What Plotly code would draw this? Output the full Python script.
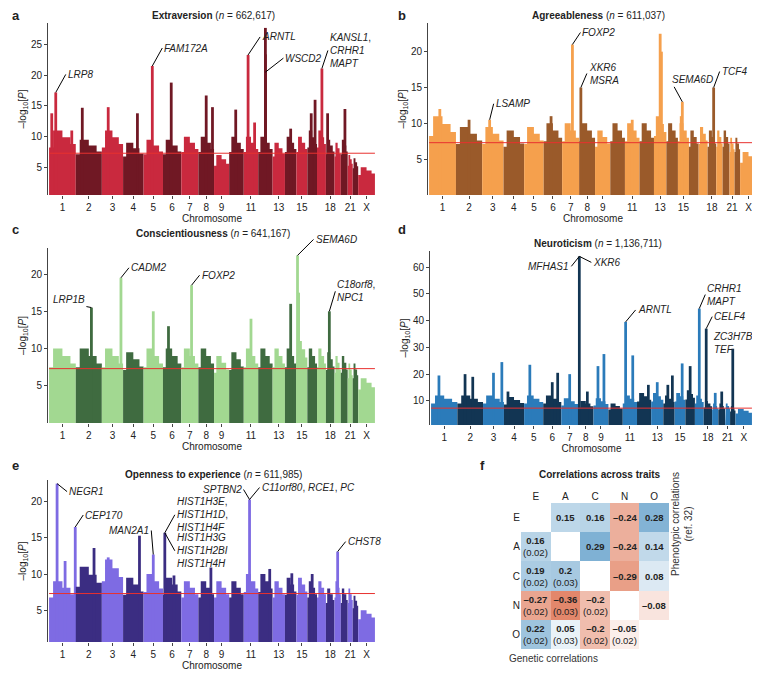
import plotly.graph_objects as go

W, H = 760, 673
FONT = "Liberation Sans"

CHROMS = [str(i) for i in range(1, 23)] + ["X"]
CHROM_LEN = [249, 243, 198, 191, 181, 171, 159, 146, 141, 136, 135, 134, 115,
             107, 102, 90, 83, 80, 59, 64, 47, 51, 156]
TICK_CHROMS = ["1", "2", "3", "4", "5", "6", "7", "8", "9", "11", "13", "15", "18", "21", "X"]

# bulk (typical top of dense points) per chromosome, and notable peaks (chrom, fraction, height)
extra_bulk = [11, 9.5, 11, 9, 9.5, 9.5, 10, 10, 7, 10, 10, 10, 9, 10, 10, 11, 11, 9.5, 9, 9.5, 7, 6.5, 5]
extra_peaks = [("1", 0.25, 17.2), ("1", 0.1, 13.8), ("1", 0.85, 11), ("2", 0.25, 14.7), ("3", 0.3, 14.8),
               ("4", 0.7, 13.8), ("5", 0.45, 21.5), ("6", 0.45, 18.8), ("8", 0.5, 16.7), ("8", 0.9, 14.8),
               ("10", 0.45, 14.4), ("11", 0.3, 23.3), ("11", 0.75, 12.3), ("12", 0.5, 20.5),
               ("12", 0.5, 23.4), ("12", 0.5, 27.7), ("14", 0.5, 11.3), ("16", 0.4, 13.8),
               ("16", 0.8, 16.0), ("17", 0.55, 21.1), ("18", 0.2, 13.8), ("20", 0.6, 14.5)]

agree_bulk = [11, 9.5, 9.5, 9, 9.5, 10, 10, 10, 9, 10, 10, 10, 11, 10, 10, 9, 9.5, 9, 9, 9, 8, 8, 6]
agree_peaks = [("1", 0.4, 12), ("2", 0.5, 10.5), ("3", 0.35, 10.5), ("6", 0.4, 11), ("7", 0.6, 21),
               ("8", 0.1, 15), ("11", 0.5, 10.5), ("13", 0.5, 22.5), ("13", 0.6, 20),
               ("15", 0.3, 11), ("15", 0.4, 13), ("18", 0.7, 15)]

consc_bulk = [10, 10, 10, 9.5, 10, 10, 10, 10, 9, 9.5, 10, 10, 10, 10, 11, 10, 10, 9.5, 9, 9, 8, 8, 6]
consc_peaks = [("2", 0.6, 15.5), ("3", 0.9, 19.5), ("5", 0.5, 15), ("6", 0.3, 13), ("7", 0.6, 18.5),
               ("11", 0.5, 14), ("14", 0.5, 16), ("15", 0.1, 22.5), ("15", 0.2, 17.5), ("18", 0.4, 15)]

neuro_bulk = [12, 12, 12, 11.5, 12, 12, 11, 10, 11, 9, 12, 13, 13, 12, 13, 14, 12, 10, 9, 9, 9, 8, 7]
neuro_peaks = [("1", 0.3, 19.5), ("2", 0.3, 20), ("2", 0.6, 19), ("3", 0.5, 20.5), ("3", 0.9, 24.5),
               ("4", 0.2, 13.5), ("5", 0.3, 23.5), ("6", 0.5, 17), ("6", 0.8, 20.5), ("7", 0.5, 20),
               ("8", 0.08, 64), ("8", 0.6, 13.5), ("9", 0.3, 23), ("9", 0.7, 27.5), ("11", 0.2, 39.5),
               ("11", 0.7, 27), ("12", 0.8, 16), ("13", 0.5, 17), ("14", 0.4, 16), ("14", 0.8, 19.5),
               ("15", 0.7, 24), ("16", 0.5, 23), ("17", 0.5, 44.5), ("18", 0.3, 37), ("19", 0.5, 13),
               ("20", 0.5, 13.5), ("22", 0.5, 29.5)]

open_bulk = [9, 11, 12, 9.5, 10, 9.5, 9, 9, 9, 9, 10, 10, 9, 9.5, 9.5, 9, 9, 8, 9, 8, 8, 7, 5]
open_peaks = [("1", 0.3, 22.5), ("1", 0.6, 11.8), ("1", 0.98, 16.5), ("2", 0.7, 13.6), ("3", 0.3, 12.3),
              ("4", 0.8, 15.3), ("5", 0.5, 12.7), ("6", 0.1, 15.7), ("6", 0.6, 9.8), ("8", 0.8, 10.9),
              ("11", 0.4, 20.3), ("12", 0.8, 10.7), ("14", 0.6, 10.1), ("16", 0.5, 10), ("19", 0.5, 13.1)]

TRAITS = ["E", "A", "C", "N", "O"]
corr = [[None, 0.15, 0.16, -0.24, 0.28],
        [0.16, None, 0.29, -0.24, 0.14],
        [0.19, 0.2, None, -0.29, 0.08],
        [-0.27, -0.36, -0.2, None, -0.08],
        [0.22, 0.05, -0.2, -0.05, None]]
corr_se = [[None] * 5,
           ["(0.02)", None, None, None, None],
           ["(0.02)", "(0.03)", None, None, None],
           ["(0.02)", "(0.03)", "(0.02)", None, None],
           ["(0.02)", "(0.03)", "(0.02)", "(0.02)", None]]

starts = {}
pos = 0
for c, L in zip(CHROMS, CHROM_LEN):
    starts[c] = pos
    pos += L
TOTAL = pos
LEN = dict(zip(CHROMS, CHROM_LEN))


def px(x0, x1):
    return [x0 / W, x1 / W]


def py(y0, y1):
    return [1 - y1 / H, 1 - y0 / H]


fig = go.Figure()


def manhattan(n, bulk, peaks, light, dark, xdom, ydom, yrange, ytickvals):
    xa, ya = f"x{n}", f"y{n}"
    for i, c in enumerate(CHROMS):
        col = light if i % 2 == 0 else dark
        s, L = starts[c], LEN[c]
        b = bulk[i]
        xs = [s, s, s + 0.15 * L, s + 0.15 * L, s + 0.5 * L, s + 0.5 * L, s + 0.8 * L, s + 0.8 * L, s + L, s + L]
        ys = [0, b * 0.75, b * 0.75, b, b, b * 0.9, b * 0.9, b * 0.8, b * 0.8, 0]
        fig.add_trace(go.Scatter(x=xs, y=ys, fill="toself", fillcolor=col, line=dict(width=0), mode="lines",
                                 xaxis=xa, yaxis=ya, showlegend=False, hoverinfo="skip"))
        for (pc, f, h) in peaks:
            if pc != c:
                continue
            x = s + f * L
            fig.add_trace(go.Scatter(x=[x - 13, x - 13, x + 13, x + 13], y=[0, h, h, 0],
                                     fill="toself", fillcolor=col, mode="lines",
                                     line=dict(width=0, color=col),
                                     xaxis=xa, yaxis=ya, showlegend=False, hoverinfo="skip"))
    fig.add_trace(go.Scatter(x=[0, TOTAL], y=[7.3, 7.3], mode="lines", line=dict(color="#e8312f", width=1),
                             xaxis=xa, yaxis=ya, showlegend=False, hoverinfo="skip"))
    tv = [starts[c] + LEN[c] / 2 for c in TICK_CHROMS]
    fig.layout[f"xaxis{n}"] = dict(domain=xdom, range=[-10, TOTAL + 10], anchor=ya, tickvals=tv,
                                   ticktext=TICK_CHROMS, showgrid=False, zeroline=False, ticks="outside",
                                   ticklen=3, tickfont=dict(size=10),
                                   title=dict(text="Chromosome", font=dict(size=10), standoff=0))
    fig.layout[f"yaxis{n}"] = dict(domain=ydom, range=yrange, anchor=xa, tickvals=ytickvals,
                                   showgrid=False, zeroline=False, ticks="outside", ticklen=3,
                                   showline=True, linecolor="#444", tickfont=dict(size=10),
                                   title=dict(text="\u2013log<sub>10</sub>[<i>P</i>]", font=dict(size=10), standoff=2))


def peak_xy(peaks, c, f):
    for (pc, pf, h) in peaks:
        if pc == c and pf == f:
            return starts[c] + f * LEN[c], h


def label(n, peaks, c, f, text, ax, ay, xanchor="left"):
    x, y = peak_xy(peaks, c, f)
    fig.add_annotation(x=x, y=y, xref=f"x{n}", yref=f"y{n}", text=text, showarrow=True,
                       arrowhead=0, arrowwidth=1, arrowcolor="black", ax=ax, ay=ay,
                       font=dict(size=10), xanchor=xanchor, align="left")


manhattan("", extra_bulk, extra_peaks, "#c9293e", "#701824", px(40, 368), py(15, 187), [0.5, 28.5], [5, 10, 15, 20, 25])
manhattan(2, agree_bulk, agree_peaks, "#f5a04d", "#9a5a2a", px(420, 750), py(15, 187), [0, 24], [5, 10, 15, 20])
manhattan(3, consc_bulk, consc_peaks, "#a2d891", "#3f6b40", px(40, 368), py(240, 415), [0, 23.5], [5, 10, 15, 20])
manhattan(4, neuro_bulk, neuro_peaks, "#2b7bba", "#123553", px(422, 745), py(243, 417), [1, 66], [10, 20, 30, 40, 50, 60])
manhattan(5, open_bulk, open_peaks, "#7e6be3", "#3b2d82", px(40, 368), py(472, 634), [0.6, 23], [5, 10, 15, 20])

label("", extra_peaks, "1", 0.25, "<i>LRP8</i>", 10, -18)
label("", extra_peaks, "5", 0.45, "<i>FAM172A</i>", 10, -18)
label("", extra_peaks, "11", 0.3, "<i>ARNTL</i>", 12, -18)
label("", extra_peaks, "12", 0.5, "<i>WSCD2</i>", 18, -14)
label("", extra_peaks, "17", 0.55, "<i>KANSL1</i>,<br><i>CRHR1</i><br><i>MAPT</i>", 6, -18)
label(2, agree_peaks, "3", 0.35, "<i>LSAMP</i>", 4, -16)
label(2, agree_peaks, "7", 0.6, "<i>FOXP2</i>", 8, -12)
label(2, agree_peaks, "8", 0.1, "<i>XKR6</i><br><i>MSRA</i>", 6, -14)
label(2, agree_peaks, "15", 0.4, "<i>SEMA6D</i>", -12, -22)
label(2, agree_peaks, "18", 0.7, "<i>TCF4</i>", 6, -16)
label(3, consc_peaks, "2", 0.6, "<i>LRP1B</i>", -40, -8)
label(3, consc_peaks, "3", 0.9, "<i>CADM2</i>", 8, -10)
label(3, consc_peaks, "7", 0.6, "<i>FOXP2</i>", 8, -10)
label(3, consc_peaks, "15", 0.1, "<i>SEMA6D</i>", 16, -16)
label(3, consc_peaks, "18", 0.4, "<i>C18orf8</i>,<br><i>NPC1</i>", 6, -20)
label(4, neuro_peaks, "8", 0.08, "<i>XKR6</i>", 12, 6)
label(4, neuro_peaks, "8", 0.08, "<i>MFHAS1</i>", -8, 10, "right")
label(4, neuro_peaks, "11", 0.2, "<i>ARNTL</i>", 10, -12)
label(4, neuro_peaks, "17", 0.5, "<i>CRHR1</i><br><i>MAPT</i>", 6, -14)
label(4, neuro_peaks, "18", 0.3, "<i>CELF4</i>", 6, -12)
label(4, neuro_peaks, "22", 0.5, "<i>ZC3H7B</i>,<br><i>TEF</i>", -22, -6)
label(5, open_peaks, "1", 0.3, "<i>NEGR1</i>", 10, 8)
label(5, open_peaks, "1", 0.98, "<i>CEP170</i>", 8, -12)
label(5, open_peaks, "5", 0.5, "<i>MAN2A1</i>", -2, -24, "right")
label(5, open_peaks, "6", 0.1, "<i>HIST1H3E</i>,<br><i>HIST1H1D</i>,<br><i>HIST1H4F</i>", 10, -18)
label(5, open_peaks, "6", 0.1, "<i>HIST1H3G</i><br><i>HIST1H2BI</i><br><i>HIST1H4H</i>", 10, 18)
label(5, open_peaks, "11", 0.4, "<i>SPTBN2</i>", -6, -10, "right")
label(5, open_peaks, "11", 0.4, "<i>C11orf80</i>, <i>RCE1</i>, <i>PC</i>", 10, -12)
label(5, open_peaks, "19", 0.5, "<i>CHST8</i>", 8, -10)

# correlation heatmap
fig.add_trace(go.Heatmap(z=corr, x=TRAITS, y=TRAITS, xaxis="x6", yaxis="y6", zmin=-0.4, zmax=0.4,
                         colorscale=[[0, "#e07a5a"], [0.5, "#ffffff"], [1, "#4e93c3"]],
                         showscale=False, xgap=0, ygap=0, hoverinfo="skip"))
for i in range(5):
    for j in range(5):
        v = corr[i][j]
        if v is None:
            continue
        txt = f"<b>{v:g}</b>".replace("-", "\u2013")
        if corr_se[i][j]:
            txt += f"<br>{corr_se[i][j]}"
        fig.add_annotation(x=TRAITS[j], y=TRAITS[i], xref="x6", yref="y6", text=txt, showarrow=False,
                           font=dict(size=9.5, color="#222"))
fig.layout.xaxis6 = dict(domain=px(513, 661), anchor="y6", side="top", showgrid=False, zeroline=False,
                         tickfont=dict(size=10), ticklen=0)
fig.layout.yaxis6 = dict(domain=py(495, 641), anchor="x6", autorange="reversed", showgrid=False,
                         zeroline=False, tickfont=dict(size=10))

panels = [("a", 2, 8, "<b>Extraversion</b> (<i>n</i> = 662,617)", 205, 8),
          ("b", 388, 8, "<b>Agreeableness</b> (<i>n</i> = 611,037)", 590, 8),
          ("c", 2, 222, "<b>Conscientiousness</b> (<i>n</i> = 641,167)", 205, 226),
          ("d", 388, 222, "<b>Neuroticism</b> (<i>n</i> = 1,136,711)", 590, 236),
          ("e", 2, 457, "<b>Openness to experience</b> (<i>n</i> = 611,985)", 205, 466),
          ("f", 470, 457, "<b>Correlations across traits</b>", 592, 466)]
for letter, lx, ly, title, tx, ty in panels:
    fig.add_annotation(x=lx / W, y=1 - ly / H, xref="paper", yref="paper", text=f"<b>{letter}</b>",
                       showarrow=False, xanchor="left", yanchor="middle", font=dict(size=13))
    fig.add_annotation(x=tx / W, y=1 - ty / H, xref="paper", yref="paper", text=title,
                       showarrow=False, xanchor="center", yanchor="middle", font=dict(size=10))
fig.add_annotation(x=592 / W, y=1 - 658 / H, xref="paper", yref="paper", text="Genetic correlations",
                   showarrow=False, font=dict(size=10, color="#333"))
fig.add_annotation(x=688 / W, y=1 - 570 / H, xref="paper", yref="paper",
                   text="Phenotypic correlations<br>(ref. 32)", textangle=-90,
                   showarrow=False, font=dict(size=10, color="#333"))

fig.update_layout(width=W, height=H, margin=dict(l=0, r=0, t=0, b=0), plot_bgcolor="white",
                  paper_bgcolor="white", font=dict(family=FONT, size=10, color="#222"))
fig.write_html("out.html")
